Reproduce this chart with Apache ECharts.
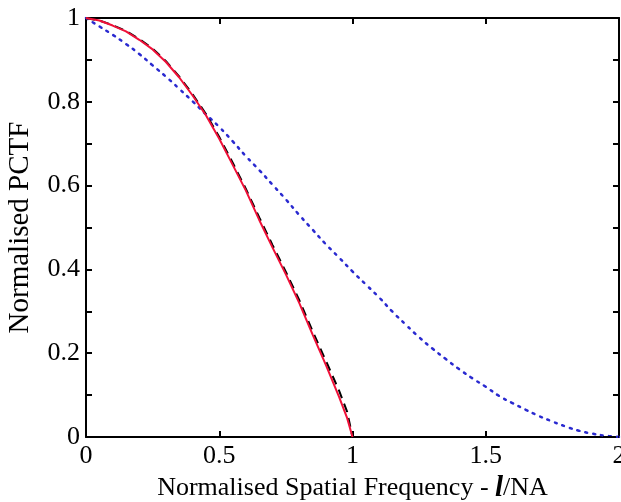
<!DOCTYPE html>
<html><head><meta charset="utf-8">
<script src="https://cdn.jsdelivr.net/npm/echarts@6/dist/echarts.min.js"></script>
<style>html,body{margin:0;padding:0;background:#fff}#c{width:621px;height:502px}</style>
</head><body><div id="c"></div>
<script>
const xTicks = [0, 0.5, 1, 1.5, 2];
const yTicks = [0, 0.2, 0.4, 0.6, 0.8, 1];

const redX = [0, 0.05, 0.1, 0.15, 0.2, 0.25, 0.3, 0.35, 0.4, 0.45, 0.5, 0.55, 0.6, 0.65, 0.7, 0.75, 0.8, 0.85, 0.9, 0.95, 0.98, 1.0];
const redY = [1, 0.994, 0.982, 0.968, 0.948, 0.925, 0.895, 0.858, 0.815, 0.768, 0.712, 0.650, 0.588, 0.518, 0.452, 0.388, 0.320, 0.245, 0.172, 0.095, 0.045, 0.0];

const blackX = [0, 0.05, 0.1, 0.15, 0.2, 0.25, 0.3, 0.35, 0.4, 0.45, 0.5, 0.55, 0.6, 0.65, 0.7, 0.75, 0.8, 0.85, 0.9, 0.95, 0.98, 1.0, 1.5, 2.0];
const blackY = [1, 0.994, 0.983, 0.969, 0.950, 0.927, 0.897, 0.860, 0.818, 0.771, 0.716, 0.655, 0.592, 0.524, 0.458, 0.394, 0.327, 0.253, 0.182, 0.110, 0.060, 0.0, 0.0, 0.0];

const blueX = [0, 0.05, 0.1, 0.15, 0.2, 0.25, 0.3, 0.35, 0.4, 0.45, 0.5, 0.55, 0.6, 0.65, 0.7, 0.75, 0.8, 0.85, 0.9, 0.95, 1.0, 1.05, 1.1, 1.15, 1.2, 1.25, 1.3, 1.35, 1.4, 1.45, 1.5, 1.55, 1.6, 1.65, 1.7, 1.75, 1.8, 1.85, 1.9, 1.95, 2.0];
const blueY = [1, 0.980, 0.960, 0.938, 0.914, 0.887, 0.860, 0.831, 0.801, 0.770, 0.740, 0.706, 0.670, 0.637, 0.602, 0.567, 0.530, 0.495, 0.460, 0.428, 0.395, 0.364, 0.333, 0.299, 0.268, 0.238, 0.211, 0.186, 0.162, 0.140, 0.120, 0.098, 0.081, 0.065, 0.050, 0.037, 0.025, 0.015, 0.008, 0.003, 0.0];

const zip = (xs, ys) => xs.map((x, i) => [x, ys[i]]);
const FONT = 'Liberation Serif';
const axisLine = {show: true, onZero: false, lineStyle: {color: '#000', width: 2}};
const tick = {show: true, inside: true, length: 6, lineStyle: {color: '#000', width: 2}};
const minor = {show: true, splitNumber: 2, length: 6, lineStyle: {color: '#000', width: 2}};

const chart = echarts.init(document.getElementById('c'), null, {renderer: 'canvas'});
chart.setOption({
  animation: false,
  backgroundColor: '#fff',
  grid: {left: 86, right: 2, top: 18, bottom: 65, containLabel: false, outerBoundsMode: 'none'},
  xAxis: [{
    type: 'value', min: 0, max: 2, interval: 0.5, position: 'bottom',
    axisLine, axisTick: tick, splitLine: {show: false},
    axisLabel: {color: '#000', fontFamily: FONT, fontSize: 26, margin: 6,
      formatter: v => xTicks.includes(v) ? String(v) : ''},
    name: '{a|Normalised Spatial Frequency - }{b|l}{a|/NA}',
    nameLocation: 'middle', nameGap: 33,
    nameTextStyle: {rich: {
      a: {fontFamily: FONT, fontSize: 26, color: '#000'},
      b: {fontFamily: FONT, fontSize: 29, fontWeight: 'bold', fontStyle: 'italic', color: '#000'}
    }}
  }, {
    type: 'value', min: 0, max: 2, interval: 0.5, position: 'top',
    axisLine, axisTick: tick, axisLabel: {show: false}, splitLine: {show: false}
  }],
  yAxis: [{
    type: 'value', min: 0, max: 1, interval: 0.2, position: 'left',
    axisLine, axisTick: tick, minorTick: minor,
    splitLine: {show: false}, minorSplitLine: {show: false},
    axisLabel: {color: '#000', fontFamily: FONT, fontSize: 26, margin: 6,
      formatter: v => { const t = yTicks.find(k => Math.abs(k - v) < 1e-9); return t === undefined ? '' : String(t); }},
    name: 'Normalised PCTF', nameLocation: 'middle', nameGap: 51, nameRotate: 90,
    nameTextStyle: {fontFamily: FONT, fontSize: 29, color: '#000'}
  }, {
    type: 'value', min: 0, max: 1, interval: 0.2, position: 'right',
    axisLine, axisTick: tick, minorTick: minor,
    axisLabel: {show: false}, splitLine: {show: false}
  }],
  series: [
    {type: 'line', data: zip(blueX, blueY), showSymbol: false, smooth: true,
     lineStyle: {color: '#2a2ad0', width: 2.5, type: [2, 6], cap: 'round'}, z: 2},
    {type: 'line', data: zip(blackX, blackY), showSymbol: false, smooth: false,
     lineStyle: {color: '#000', width: 2, type: [9, 6]}, z: 3},
    {type: 'line', data: zip(redX, redY), showSymbol: false, smooth: false,
     lineStyle: {color: '#f01038', width: 2}, z: 4}
  ]
});
</script></body></html>
